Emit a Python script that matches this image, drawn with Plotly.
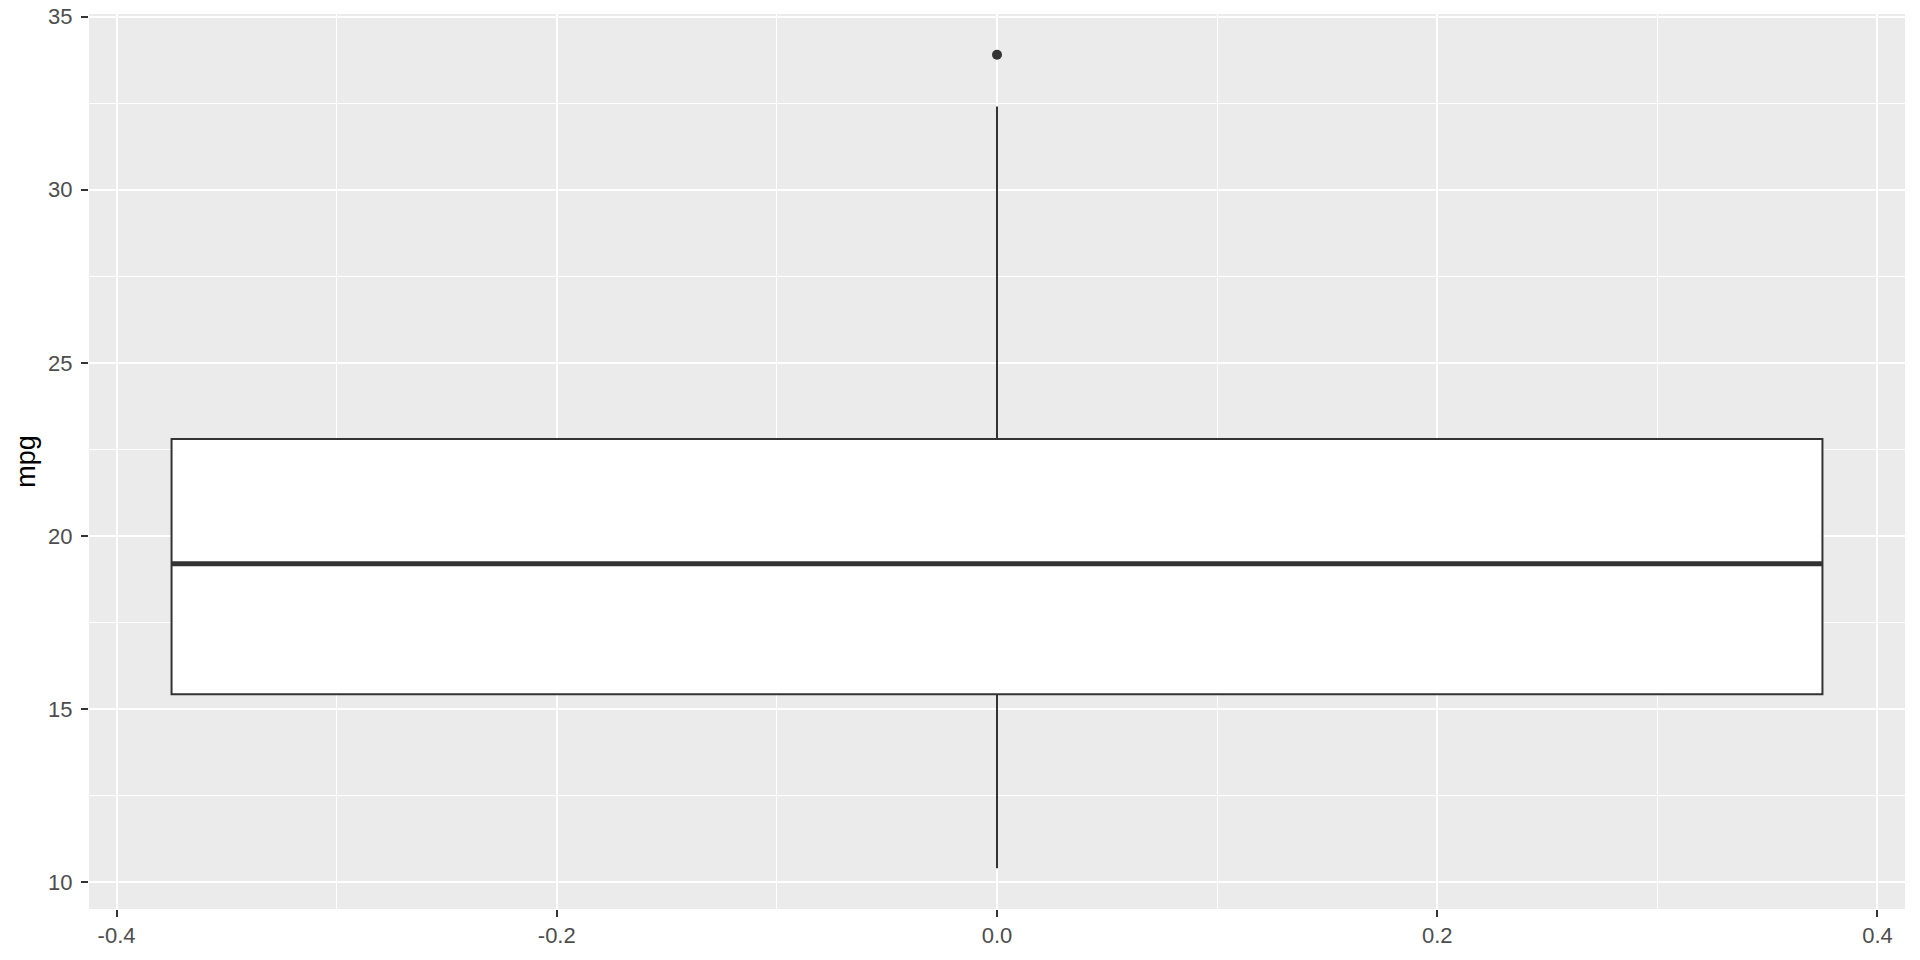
import plotly.graph_objects as go

# Data (mtcars mpg summary)
box_position = [0.0]
box_width = 0.75
q1_vals = [15.425]
median_vals = [19.2]
q3_vals = [22.8]
lower_whisker = [10.4]
upper_whisker = [32.4]
outlier_values = [33.9]

x_tickvals = [-0.4, -0.2, 0.0, 0.2, 0.4]
x_ticktext = ["-0.4", "-0.2", "0.0", "0.2", "0.4"]
x_minor = [-0.3, -0.1, 0.1, 0.3]
y_tickvals = [10, 15, 20, 25, 30, 35]
y_ticktext = ["10", "15", "20", "25", "30", "35"]
y_minor = [12.5, 17.5, 22.5, 27.5, 32.5]

dark = "#333333"

fig = go.Figure()
fig.add_trace(go.Box(
    x=box_position,
    q1=q1_vals, median=median_vals, q3=q3_vals,
    lowerfence=lower_whisker, upperfence=upper_whisker,
    width=box_width, whiskerwidth=0,
    fillcolor="white", line=dict(color=dark, width=2),
    boxpoints=False, showlegend=False, hoverinfo="skip",
))
# thicker median line (ggplot fatten)
c = box_position[0]
fig.add_trace(go.Scatter(
    x=[c - box_width / 2, c + box_width / 2],
    y=[median_vals[0], median_vals[0]],
    mode="lines", line=dict(color=dark, width=5),
    showlegend=False, hoverinfo="skip",
))
fig.add_trace(go.Scatter(
    x=[c] * len(outlier_values), y=outlier_values,
    mode="markers", marker=dict(color=dark, size=10),
    showlegend=False, hoverinfo="skip",
))

lo, hi = min(lower_whisker + outlier_values), max(upper_whisker + outlier_values)
ypad = (hi - lo) * 0.05
xpad = box_width * 0.05

tickfont = dict(family="Liberation Sans, Arial, sans-serif", size=22, color="#4D4D4D")

fig.update_layout(
    width=1920, height=960,
    margin=dict(l=89, r=15, t=14, b=51, autoexpand=False),
    paper_bgcolor="white", plot_bgcolor="#EBEBEB",
    font=dict(family="Liberation Sans, Arial, sans-serif"),
    xaxis=dict(
        range=[c - box_width / 2 - xpad, c + box_width / 2 + xpad],
        tickmode="array", tickvals=x_tickvals, ticktext=x_ticktext,
        showgrid=True, gridcolor="white", gridwidth=2,
        zeroline=False, showline=False,
        ticks="outside", ticklen=7, tickwidth=2, tickcolor=dark,
        tickfont=tickfont,
        minor=dict(tickmode="array", tickvals=x_minor, showgrid=True,
                   gridcolor="white", gridwidth=1, ticks=""),
        automargin=False,
    ),
    yaxis=dict(
        range=[lo - ypad, hi + ypad],
        tickmode="array", tickvals=y_tickvals, ticktext=y_ticktext,
        showgrid=True, gridcolor="white", gridwidth=2,
        zeroline=False, showline=False,
        ticks="outside", ticklen=7, tickwidth=2, tickcolor=dark,
        tickfont=tickfont, ticklabelstandoff=4,
        minor=dict(tickmode="array", tickvals=y_minor, showgrid=True,
                   gridcolor="white", gridwidth=1, ticks=""),
        title=dict(text="mpg", font=dict(size=27, color="black"), standoff=4),
        automargin=False,
    ),
)

fig.write_html(
    "out.html",
    config={"displayModeBar": False},
    post_script="document.body.style.margin='0';document.body.style.overflow='hidden';",
)
